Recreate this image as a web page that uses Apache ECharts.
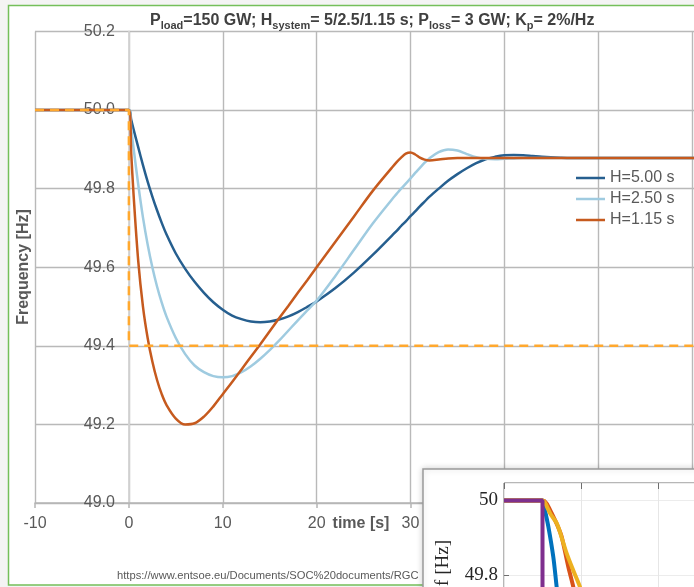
<!DOCTYPE html>
<html>
<head>
<meta charset="utf-8">
<script src="https://cdn.jsdelivr.net/npm/echarts@6/dist/echarts.min.js"></script>
<style>
  html, body { margin: 0; padding: 0; background: #f4f4f4; }
  #chart { width: 694px; height: 587px; }
</style>
</head>
<body>
<div id="chart"></div>
<script>
// main chart: frequency after loss of 3 GW, three inertia values
const timeS = [-10, 0, 0.25, 0.5, 1, 1.5, 2, 2.5, 3, 3.5, 4, 5, 6, 7, 8, 9, 10, 11, 12, 13,
  14, 15, 16, 17, 18, 19, 20, 22, 24, 26, 28, 28.5, 29, 29.5, 30, 30.5, 31, 31.5, 32, 33,
  34, 35, 36, 37, 38, 39, 40, 41, 42, 43, 44, 46, 48, 50, 60, 70]

const freqH500 = [50, 50, 49.975, 49.951, 49.905, 49.86, 49.818, 49.78, 49.745, 49.713,
  49.684, 49.635, 49.596, 49.563, 49.535, 49.511, 49.492, 49.477, 49.468, 49.462,
  49.46, 49.462, 49.467, 49.475, 49.486, 49.499, 49.513, 49.547, 49.587, 49.632,
  49.68, 49.692, 49.705, 49.717, 49.73, 49.742, 49.755, 49.767, 49.779, 49.8,
  49.82, 49.837, 49.852, 49.865, 49.875, 49.881, 49.885, 49.886, 49.885, 49.883,
  49.881, 49.879, 49.878, 49.878, 49.878, 49.878]

const freqH250 = [50, 50, 49.951, 49.903, 49.81, 49.727, 49.658, 49.6, 49.551, 49.51,
  49.475, 49.42, 49.379, 49.35, 49.333, 49.323, 49.32, 49.323, 49.333, 49.348,
  49.367, 49.389, 49.413, 49.439, 49.465, 49.49, 49.515, 49.578, 49.645, 49.712,
  49.772, 49.786, 49.8, 49.813, 49.826, 49.84, 49.853, 49.866, 49.877, 49.893,
  49.9, 49.897, 49.888, 49.88, 49.876, 49.875, 49.876, 49.877, 49.878, 49.878,
  49.878, 49.878, 49.878, 49.878, 49.878, 49.878]

const freqH115 = [50, 50, 49.89, 49.785, 49.615, 49.5, 49.42, 49.36, 49.313, 49.277,
  49.25, 49.215, 49.2, 49.203, 49.22, 49.246, 49.277, 49.308, 49.34, 49.372,
  49.404, 49.437, 49.47, 49.502, 49.535, 49.567, 49.6, 49.665, 49.73, 49.795,
  49.853, 49.867, 49.879, 49.889, 49.892, 49.887, 49.879, 49.874, 49.872, 49.874,
  49.877, 49.878, 49.878, 49.878, 49.878, 49.878, 49.878, 49.878, 49.878, 49.878,
  49.878, 49.878, 49.878, 49.878, 49.878, 49.878]

const seriesNames = ['H=5.00 s', 'H=2.50 s', 'H=1.15 s']

// dashed limit line (nominal 50 Hz, then 49.4 Hz limit)
const limitT = [-10, 0, 0, 70]
const limitF = [50, 50, 49.4, 49.4]

// inset picture (bottom right), arbitrary time units
const insetPurpleT = [0, 0.5, 0.5]
const insetPurpleF = [50, 50, 49.4]
const insetBlueT = [0, 0.5, 0.53, 0.576, 0.64, 0.684, 0.73]
const insetBlueF = [50, 50, 49.975, 49.93, 49.849, 49.768, 49.69]
const insetRedT = [0, 0.5, 0.55, 0.619, 0.7, 0.749, 0.835, 0.9, 0.96]
const insetRedF = [50, 50, 49.993, 49.966, 49.93, 49.903, 49.822, 49.768, 49.71]
const insetYellowT = [0, 0.5, 0.53, 0.6, 0.684, 0.75, 0.814, 0.9, 0.987, 1.05]
const insetYellowF = [50, 50, 49.995, 49.965, 49.939, 49.9, 49.858, 49.812, 49.768, 49.73]

const pairs = (xs, ys) => xs.map((x, i) => [x, ys[i]])

const FONT = 'Liberation Sans'
const SERIF = 'Liberation Serif'
const labelColor = '#595959'
const gridColor = '#b9b9b9'

const chart = echarts.init(document.getElementById('chart'), null, { renderer: 'canvas' })

const mainLine = (name, data, color) => ({
  name,
  type: 'line',
  xAxisIndex: 0,
  yAxisIndex: 0,
  data,
  symbol: 'none',
  smooth: 0.35,
  lineStyle: { color, width: 2.5 },
  itemStyle: { color },
  z: 2,
  animation: false,
})

const insetLine = (data, color, width) => ({
  type: 'line',
  xAxisIndex: 1,
  yAxisIndex: 1,
  data,
  symbol: 'none',
  smooth: 0.3,
  lineStyle: { color, width },
  z: 14,
  animation: false,
})

const option = {
  backgroundColor: '#f4f4f4',
  animation: false,
  textStyle: { fontFamily: FONT },
  title: {
    text: '{n|P}{s|load}{n|=150 GW; H}{s|system}{n|= 5/2.5/1.15 s; P}{s|loss}{n|= 3 GW; K}{s|p}{n|= 2%/Hz}',
    left: 145,
    top: 6,
    textStyle: {
      rich: {
        n: { fontFamily: FONT, fontSize: 16, fontWeight: 'bold', color: '#404040', lineHeight: 20 },
        s: { fontFamily: FONT, fontSize: 11, fontWeight: 'bold', color: '#404040', lineHeight: 11, verticalAlign: 'bottom' },
      },
    },
  },
  legend: {
    data: seriesNames,
    orient: 'vertical',
    left: 571,
    top: 165,
    icon: 'rect',
    itemWidth: 29,
    itemHeight: 2.5,
    itemGap: 5,
    textStyle: { fontFamily: FONT, fontSize: 16, color: labelColor },
  },
  grid: [
    { left: 35, top: 31.5, width: 751, height: 471.5, outerBoundsMode: 'none', containLabel: false },
    {
      left: 504, top: 483, width: 231, height: 241, outerBoundsMode: 'none', containLabel: false,
      show: true, borderColor: '#6e6e6e', borderWidth: 1, backgroundColor: '#ffffff', z: 12,
    },
  ],
  xAxis: [
    {
      type: 'value',
      gridIndex: 0,
      min: -10,
      max: 70,
      interval: 10,
      axisLine: { show: true, onZero: false, lineStyle: { color: '#b5b5b5', width: 1.5 } },
      axisTick: { show: true, length: 5, lineStyle: { color: '#b5b5b5', width: 1.5 } },
      axisLabel: { fontFamily: FONT, fontSize: 16, color: labelColor, margin: 13 },
      splitLine: { show: true, lineStyle: { color: gridColor, width: 1.4 } },
    },
    {
      type: 'value',
      gridIndex: 1,
      position: 'top',
      min: 0,
      max: 3,
      interval: 1,
      z: 12,
      axisLine: { show: false },
      axisTick: { show: true, inside: true, length: 6, lineStyle: { color: '#6e6e6e' } },
      axisLabel: { show: false },
      splitLine: { show: true, lineStyle: { color: '#e6e6e6', width: 1 } },
    },
  ],
  yAxis: [
    {
      type: 'value',
      gridIndex: 0,
      min: 49,
      max: 50.2,
      interval: 0.2,
      offset: -93.9,
      axisLine: { show: true, onZero: false, lineStyle: { color: '#d3d3d3', width: 1.8 } },
      axisTick: { show: false },
      axisLabel: {
        fontFamily: FONT, fontSize: 16, color: labelColor, margin: 14,
        formatter: (v) => v.toFixed(1),
      },
      splitLine: { show: true, lineStyle: { color: gridColor, width: 1.4 } },
    },
    {
      type: 'value',
      gridIndex: 1,
      min: 49.4,
      max: 50.047,
      interval: 0.2,
      z: 12,
      axisLine: { show: false, onZero: false },
      axisTick: { show: true, inside: true, length: 5, lineStyle: { color: '#6e6e6e' } },
      axisLabel: {
        fontFamily: SERIF, fontSize: 19, color: '#262626', margin: 6, showMaxLabel: false,
        formatter: (v) => String(+v.toFixed(1)),
      },
      splitLine: { show: true, lineStyle: { color: '#ececec', width: 1 } },
    },
  ],
  graphic: [
    // white sheet with green frame
    {
      type: 'rect', z: -10, silent: true,
      shape: { x: 8.5, y: 5.5, width: 720, height: 579.5 },
      style: { fill: '#ffffff', stroke: '#74bf5a', lineWidth: 1.5 },
    },
    {
      type: 'text', z: 5, x: 361, y: 524, silent: true,
      style: { text: 'time [s]', fontFamily: FONT, fontSize: 16, fontWeight: 'bold', fill: labelColor, align: 'center', verticalAlign: 'middle' },
    },
    {
      type: 'text', z: 5, x: 23.5, y: 267, rotation: Math.PI / 2, silent: true,
      style: { text: 'Frequency [Hz]', fontFamily: FONT, fontSize: 16, fontWeight: 'bold', fill: labelColor, align: 'center', verticalAlign: 'middle' },
    },
    {
      type: 'text', z: 5, x: 117, y: 576, silent: true,
      style: { text: 'https://www.entsoe.eu/Documents/SOC%20documents/RGC', fontFamily: FONT, fontSize: 11.2, fill: '#595959', align: 'left', verticalAlign: 'middle' },
    },
    // inset panel
    {
      type: 'rect', z: 10, silent: true,
      shape: { x: 423, y: 469, width: 300, height: 150 },
      style: { fill: '#ffffff', stroke: '#9a9a9a', lineWidth: 1.5, shadowBlur: 6, shadowColor: 'rgba(0,0,0,0.18)' },
    },
    {
      type: 'text', z: 13, x: 443, y: 540, rotation: Math.PI / 2, silent: true,
      style: { text: 'f [Hz]', fontFamily: SERIF, fontSize: 19, fill: '#262626', align: 'right', verticalAlign: 'middle' },
    },
  ],
  series: [
    mainLine(seriesNames[0], pairs(timeS, freqH500), '#265f8f'),
    mainLine(seriesNames[1], pairs(timeS, freqH250), '#9fcbe0'),
    mainLine(seriesNames[2], pairs(timeS, freqH115), '#c65a1e'),
    {
      type: 'line',
      data: pairs(limitT, limitF),
      symbol: 'none',
      lineStyle: { color: '#ffa82e', width: 2.5, type: [9, 6] },
      z: 3,
      animation: false,
    },
    insetLine(pairs(insetBlueT, insetBlueF), '#0072bd', 4),
    insetLine(pairs(insetRedT, insetRedF), '#d95319', 4),
    insetLine(pairs(insetYellowT, insetYellowF), '#edb120', 4),
    insetLine(pairs(insetPurpleT, insetPurpleF), '#7e2f8e', 4),
  ],
}

chart.setOption(option)
</script>
</body>
</html>
